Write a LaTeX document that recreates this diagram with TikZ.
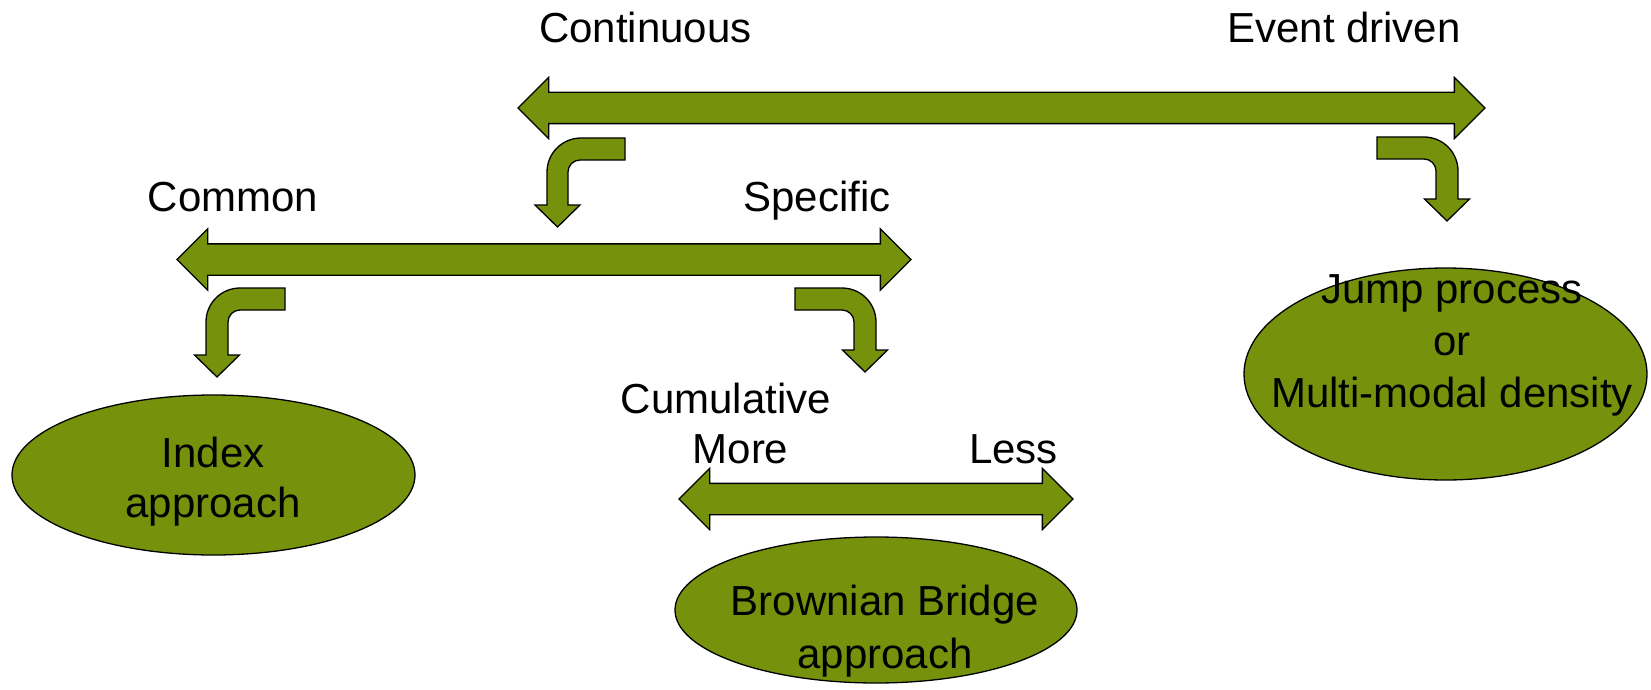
\documentclass[tikz,border=0pt]{standalone}
\usepackage{fontspec}
\setmainfont{Liberation Sans}
\usepackage{tikz}
\usetikzlibrary{shapes.geometric, shapes.arrows}
\definecolor{bargreen}{RGB}{118,146,13}
\tikzset{
    dblbar/.style={double arrow, double arrow head extend=15pt, inner xsep=0pt, inner ysep=15pt, minimum width=60pt, draw=black, fill=bargreen, line width=1.3pt},
    bent/.style={draw=black, fill=bargreen, line width=1.3pt, line join=miter},
    blob/.style={ellipse, inner sep=0pt, draw=black, fill=bargreen, line width=1.3pt},
    lbl/.style={font=\fontsize{42}{51}\selectfont, anchor=base, inner sep=0pt},
    blobtext/.style={font=\fontsize{42}{52}\selectfont, anchor=base, inner sep=0pt, align=center}
}

\begin{document}
\begin{tikzpicture}[x=1pt, y=-1pt]
        \useasboundingbox (0,0) rectangle (1651,690);

        % Barre a doppia freccia
        \node (contbar) [dblbar, minimum height=967pt] at (1001.5,108) {};
        \node (commonbar) [dblbar, minimum height=734pt] at (544,259.5) {};
        \node (cumbar) [dblbar, minimum height=394pt] at (876,499) {};

        % Frecce curve
        \draw [bent] (625,138) -- (581,138) arc[start angle=270, end angle=180, radius=34] -- (547,205) -- (535,205) -- (557.5,227) -- (580,205) -- (568,205) -- (568,172) arc[start angle=180, end angle=270, radius=12] -- (625,160) -- cycle;
        \draw [bent] (1377,137) -- (1424,137) arc[start angle=270, end angle=360, radius=34] -- (1458,199) -- (1469.5,199) -- (1447,221) -- (1424.5,199) -- (1436,199) -- (1436,171) arc[start angle=0, end angle=-90, radius=12] -- (1377,159) -- cycle;
        \draw [bent] (285,288) -- (240,288) arc[start angle=270, end angle=180, radius=34] -- (206,355) -- (194.5,355) -- (217,377) -- (239.5,355) -- (228,355) -- (228,322) arc[start angle=180, end angle=270, radius=12] -- (285,310) -- cycle;
        \draw [bent] (795,288) -- (842,288) arc[start angle=270, end angle=360, radius=34] -- (876,350) -- (887.5,350) -- (865,372) -- (842.5,350) -- (854,350) -- (854,322) arc[start angle=0, end angle=-90, radius=12] -- (795,310) -- cycle;

        % Etichette
        \node (continuous) [lbl] at (645.5,43) {Continuous};
        \node (eventdriven) [lbl] at (1344,43) {Event driven};
        \node (common) [lbl] at (233,211) {Common};
        \node (specific) [lbl] at (817,211) {Specific};
        \node (cumulative) [lbl] at (726,413) {Cumulative};
        \node (more) [lbl] at (740.5,463) {More};
        \node (less) [lbl] at (1013.5,463) {Less};

        % Approcci
        \node (index) [blob, minimum width=403pt, minimum height=160pt] at (213.5,475) {};
        \node (brownian) [blob, minimum width=402pt, minimum height=146pt] at (876,610) {};
        \node (jump) [blob, minimum width=403pt, minimum height=212pt] at (1445.5,374) {};

        \node (indextxt) [blobtext, font=\fontsize{42}{50}\selectfont] at (213,517) {Index\\approach};
        \node (browniantxt) [blobtext, font=\fontsize{42}{53}\selectfont] at (885,668) {Brownian Bridge\\approach};
        \node (jumptxt) [blobtext] at (1452,407) {Jump process\\or\\Multi-modal density};

    \end{tikzpicture}
\end{document}
